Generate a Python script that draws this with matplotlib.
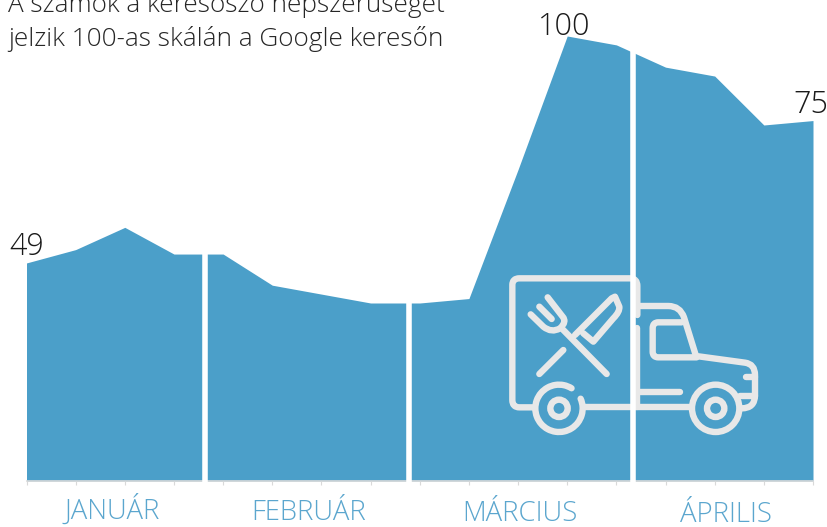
import matplotlib.pyplot as plt
from matplotlib.patches import Circle, PathPatch, Arc
from matplotlib.path import Path

# values, one per tick
values = [49, 52, 57, 51, 51, 44, 42, 40, 40, 41, 70, 100, 98, 93, 91, 80, 81]
point_labels = ['49', '100', '75']
label_pos = [(27, 247), (564, 27), (811, 105)]
months = ['JANUÁR', 'FEBRUÁR', 'MÁRCIUS', 'ÁPRILIS']
month_pos = [(112, 519), (309, 520), (520, 521), (726, 522)]
gaps = [3.63, 7.78, 12.33]
title = ['A számok a keresőszó népszerűségét', 'jelzik 100-as skálán a Google keresőn']

BLUE = '#4b9fc9'
ICON = '#e8e8e8'
W, H = 827, 527
LW = 4.6

plt.rcParams['font.family'] = ['Open Sans', 'DejaVu Sans']
fig = plt.figure(figsize=(W / 100, H / 100), dpi=100)

# main axes: 26.5..813 px wide, baseline at y=481, 100 at y=36
ax = fig.add_axes([26.5 / W, 1 - 481 / H, 786.5 / W, 445 / H])
ax.fill_between(range(len(values)), values, 0, color=BLUE, lw=0, zorder=1)
ax.set_xlim(0, len(values) - 1)
ax.set_ylim(0, 100)
for s in ['top', 'left', 'right']:
    ax.spines[s].set_visible(False)
ax.spines['bottom'].set_color('#d9d9d9')
ax.spines['bottom'].set_linewidth(1.2)
ax.set_yticks([])
ax.set_xticks(range(len(values)))
ax.set_xticklabels([])
ax.tick_params(axis='x', color='#d9d9d9', length=3, width=0.8)
ax.patch.set_alpha(0)

# overlay in pixel coords for text and the icon
ov = fig.add_axes([0, 0, 1, 1])
ov.set_xlim(0, W)
ov.set_ylim(H, 0)
ov.axis('off')
ov.patch.set_alpha(0)


def zx(x):
    return 480 + x / 3


def zy(y):
    return 260 + y / 3


def stroke(pts, curves=()):
    # pts in zoom coords, curves = indexes that are control points
    verts = [(zx(x), zy(y)) for x, y in pts]
    codes = [Path.MOVETO]
    for i in range(1, len(pts)):
        codes.append(Path.CURVE3 if i in curves or i - 1 in curves else Path.LINETO)
    ov.add_patch(PathPatch(Path(verts, codes), fc='none', ec=ICON, lw=LW,
                           capstyle='round', joinstyle='round', zorder=2))


# box
stroke([(160, 442), (118, 442), (97, 442), (97, 420), (97, 75), (97, 55), (118, 55), (450, 55), (472, 55), (472, 78), (472, 165)],
       curves=(2, 5, 8))
stroke([(472, 205), (472, 442)])
stroke([(312, 442), (635, 442)])
# cab
stroke([(480, 138), (565, 138), (600, 138), (612, 172), (648, 288), (795, 308), (825, 312), (825, 345), (825, 405), (825, 445), (785, 445)],
       curves=(2, 6, 9))
stroke([(605, 187), (535, 187), (518, 187), (518, 205), (518, 275), (518, 292), (535, 292), (650, 292)], curves=(2, 5))
stroke([(480, 397), (600, 397)])
stroke([(797, 350), (825, 350)])
stroke([(780, 408), (825, 408)])
# wheels
ov.add_patch(Arc((zx(237), zy(445)), 142 / 3, 142 / 3, theta1=-24, theta2=302, ec=ICON, lw=LW, zorder=2, capstyle='round'))
ov.add_patch(Circle((zx(707), zy(445)), 71 / 3, fc=BLUE, ec=ICON, lw=LW, zorder=2))
for cx in (237, 707):
    ov.add_patch(Circle((zx(cx), zy(445)), 26 / 3, fc='none', ec=ICON, lw=LW, zorder=2))
# fork and knife
stroke([(245, 205), (380, 342)])
stroke([(250, 270), (178, 342)])
stroke([(152, 163), (190, 200), (215, 220), (240, 205), (262, 185), (248, 170), (203, 112)], curves=(2, 4))
stroke([(178, 140), (215, 177)])
stroke([(285, 225), (395, 115), (405, 110), (418, 140), (420, 155), (400, 175), (340, 245), (310, 220)], curves=(4,))

# white separators sit over the area and the icon
for g in gaps:
    px = ax.transData.transform((g, 0))[0] / fig.dpi * 100
    ov.plot([px, px], [0, 488], color='white', lw=4, zorder=3, solid_capstyle='butt')

for line, y in zip(title, [12, 46]):
    ov.text(8, y, line, fontsize=18.8, fontweight='light', color='#262626', ha='left', va='baseline', zorder=5)
for lab, (x, y) in zip(point_labels, label_pos):
    ov.text(x, y, lab, fontsize=22, fontweight='light', color='#1a1a1a', ha='center', va='center', zorder=5)
for m, (x, y) in zip(months, month_pos):
    ov.text(x, y, m, fontsize=19.8, fontweight='light', color='#5ba6ce', ha='center', va='baseline', zorder=5)

fig.savefig('out.png', dpi=100)
